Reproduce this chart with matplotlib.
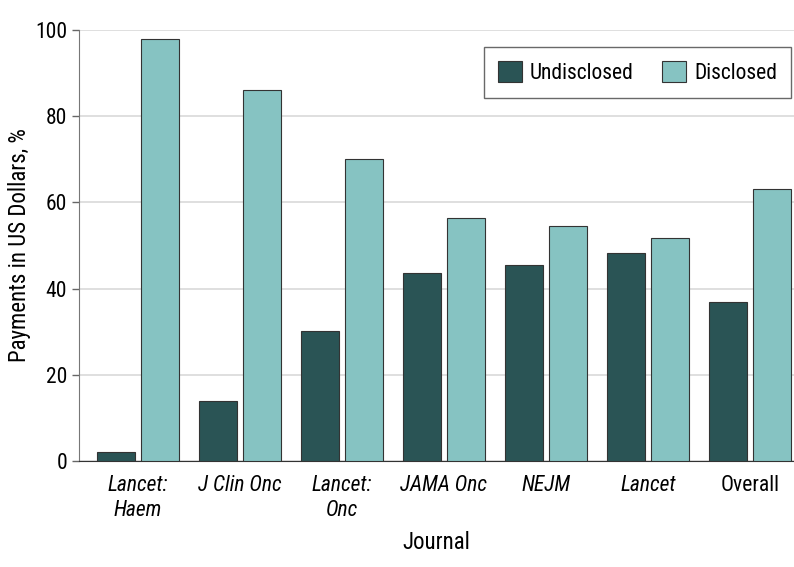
import numpy as np
import matplotlib.pyplot as plt

journals = ['Lancet:\nHaem', 'J Clin Onc', 'Lancet:\nOnc', 'JAMA Onc', 'NEJM', 'Lancet', 'Overall']
undisclosed = [2.1, 13.9, 30.1, 43.6, 45.5, 48.3, 36.9]
disclosed = [98.0, 86.1, 70.0, 56.4, 54.5, 51.7, 63.2]

plt.rcParams['font.family'] = ['Roboto Condensed', 'Lato', 'DejaVu Sans']

fig = plt.figure(figsize=(7.94, 5.67), dpi=100)
ax = fig.add_axes([0.0995, 0.187, 0.9, 0.76])

x = np.arange(len(journals))
w = 0.375
ax.bar(x - 0.215, undisclosed, w, color='#2a5455', edgecolor='#333333', linewidth=0.8,
       label='Undisclosed', zorder=3)
ax.bar(x + 0.215, disclosed, w, color='#86c3c2', edgecolor='#333333', linewidth=0.8,
       label='Disclosed', zorder=3)

ax.set_xlim(-0.58, 6.43)
ax.set_ylim(0, 100)
ax.set_yticks([0, 20, 40, 60, 80, 100])
ax.yaxis.grid(True, color='#d9d9d9', linewidth=1.2, zorder=0)
ax.set_axisbelow(True)

ax.set_xticks(x)
ax.set_xticklabels(journals, fontsize=15.5, linespacing=1.25)
for lab in ax.get_xticklabels()[:-1]:
    lab.set_style('italic')
ax.tick_params(axis='x', length=0, pad=10)
ax.tick_params(axis='y', labelsize=15.5, length=5, color='#666666', width=1)

for s in ['top', 'right']:
    ax.spines[s].set_visible(False)
ax.spines['left'].set_color('#777777')
ax.spines['bottom'].set_color('#333333')

ax.set_ylabel('Payments in US Dollars, %', fontsize=16.5, labelpad=3)
ax.set_xlabel('Journal', fontsize=16.5, labelpad=7)

leg = ax.legend(loc='upper right', ncol=2, fontsize=15.5, frameon=True, fancybox=False,
                edgecolor='#444444', handlelength=1.15, handleheight=1.15, handletextpad=0.35,
                columnspacing=1.3, borderpad=0.65, borderaxespad=0,
                bbox_to_anchor=(0.9963, 0.9606))
leg.get_frame().set_linewidth(1.0)

fig.savefig('out.png', dpi=100)
